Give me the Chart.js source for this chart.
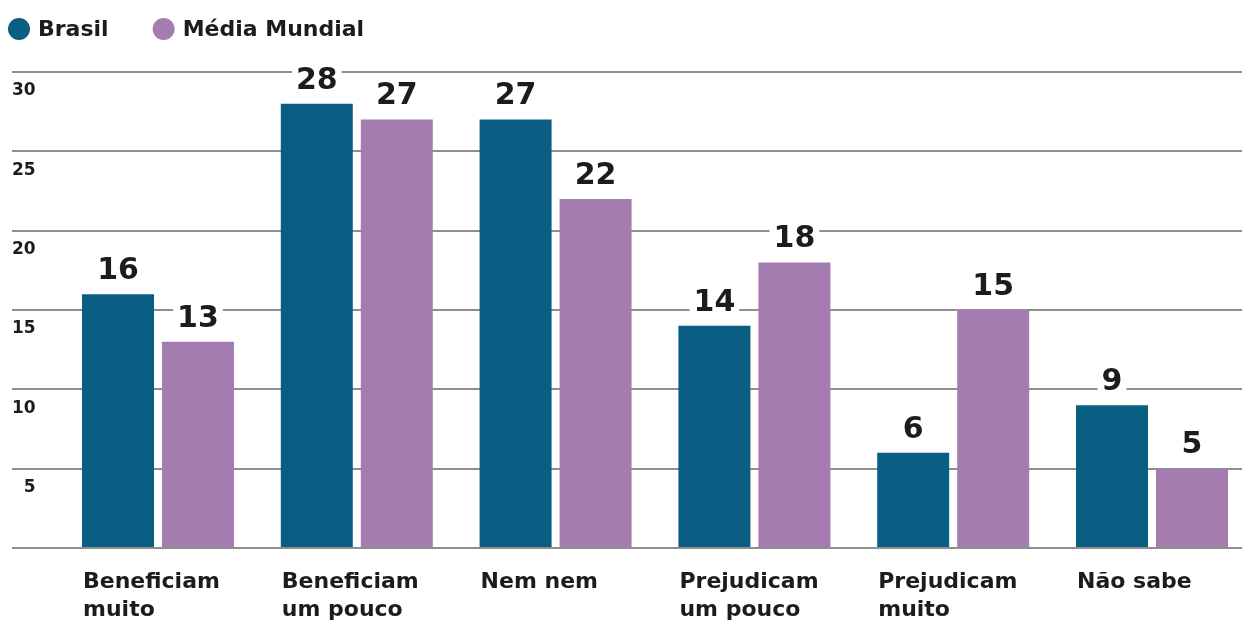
<!DOCTYPE html>
<html>
<head>
<meta charset="utf-8">
<script src="https://cdn.jsdelivr.net/npm/chart.js@4.4.0/dist/chart.umd.min.js"></script>
<style>
    html, body { margin: 0; padding: 0; background: #fff; overflow: hidden; }
    #wrap { width: 1242px; height: 624px; }
</style>
</head>
<body>
<div id="wrap"><canvas id="chart" width="1242" height="624"></canvas></div>
<script>
// categories (one array per label, one entry per line)
var categories = [
    ['Beneficiam', 'muito'],
    ['Beneficiam', 'um pouco'],
    ['Nem nem'],
    ['Prejudicam', 'um pouco'],
    ['Prejudicam', 'muito'],
    ['Não sabe']
];
var brasil = [16, 28, 27, 14, 6, 9];
var mediaMundial = [13, 27, 22, 18, 15, 5];
var yTicks = [0, 5, 10, 15, 20, 25, 30];

var COLOR_BRASIL = '#0a5e84';
var COLOR_MEDIA = '#a57cb0';
var FONT = '"DejaVu Sans", "Liberation Sans", sans-serif';

(function(){
    // custom legend drawn on top of the canvas
    var legendPlugin = {
        id: 'topLegend',
        afterDraw: function(chart){
            var ctx = chart.ctx;
            var x = 8;
            var y = 29;
            ctx.save();
            ctx.font = 'bold 22px ' + FONT;
            ctx.textBaseline = 'middle';
            chart.data.datasets.forEach(function(ds){
                ctx.fillStyle = ds.backgroundColor;
                ctx.beginPath();
                ctx.arc(x + 11, y, 11, 0, Math.PI * 2);
                ctx.fill();
                ctx.fillStyle = '#1c1c1c';
                ctx.fillText(ds.label, x + 30, y + 1);
                x += 30 + ctx.measureText(ds.label).width + 44;
            });
            ctx.restore();
        }
    };

    // value labels above each bar, knocked out of the gridlines
    var valueLabels = {
        id: 'valueLabels',
        afterDatasetsDraw: function(chart){
            var ctx = chart.ctx;
            ctx.save();
            ctx.font = 'bold 30px ' + FONT;
            ctx.textAlign = 'center';
            ctx.textBaseline = 'middle';
            chart.data.datasets.forEach(function(ds, i){
                var meta = chart.getDatasetMeta(i);
                meta.data.forEach(function(bar, j){
                    var text = String(ds.data[j].y);
                    var w = ctx.measureText(text).width;
                    var cy = bar.y - 24;
                    ctx.fillStyle = '#fff';
                    ctx.fillRect(bar.x - w / 2 - 4, cy - 13, w + 8, 26);
                    ctx.fillStyle = '#1c1c1c';
                    ctx.fillText(text, bar.x, cy + 1);
                });
            });
            ctx.restore();
        }
    };

    function toPoints(values){
        return values.map(function(v, i){ return { x: i, y: v }; });
    }

    new Chart(document.getElementById('chart'), {
        type: 'bar',
        data: {
            datasets: [{
                label: 'Brasil',
                data: toPoints(brasil),
                backgroundColor: COLOR_BRASIL
            }, {
                label: 'Média Mundial',
                data: toPoints(mediaMundial),
                backgroundColor: COLOR_MEDIA
            }]
        },
        options: {
            responsive: false,
            animation: false,
            devicePixelRatio: 1,
            categoryPercentage: 0.8048,
            barPercentage: 0.9,
            layout: { padding: { top: 72, left: 0, right: 0, bottom: 0 } },
            plugins: {
                legend: { display: false },
                tooltip: { enabled: false }
            },
            scales: {
                x: {
                    type: 'linear',
                    offset: false,
                    min: -0.7344,
                    max: 5.4527,
                    grid: { display: false, offset: false },
                    border: { display: false },
                    ticks: {
                        stepSize: 1,
                        includeBounds: false,
                        autoSkip: false,
                        maxRotation: 0,
                        align: 'start',
                        labelOffset: -75,
                        padding: 12,
                        color: '#1c1c1c',
                        font: { family: FONT, size: 22, weight: 'bold', lineHeight: 1.27 },
                        callback: function(value){
                            return categories[value] || '';
                        }
                    },
                    afterFit: function(s){
                        s.height = 76;
                        s.paddingLeft = 0;
                        s.paddingRight = 0;
                    }
                },
                y: {
                    min: yTicks[0],
                    max: yTicks[yTicks.length - 1],
                    grid: { color: '#8e8e8e', lineWidth: 2, drawTicks: false },
                    border: { display: false },
                    afterBuildTicks: function(s){
                        s.ticks = yTicks.map(function(v){ return { value: v }; });
                    },
                    ticks: {
                        mirror: true,
                        padding: 0,
                        labelOffset: 19,
                        color: '#1c1c1c',
                        font: { family: FONT, size: 17, weight: 'bold' },
                        callback: function(value){
                            if( value === 0 ) return '';
                            return value < 10 ? '\u2007' + value : String(value);
                        }
                    },
                    afterFit: function(s){
                        s.width = 12;
                        s.paddingTop = 0;
                        s.paddingBottom = 0;
                    }
                }
            }
        },
        plugins: [legendPlugin, valueLabels]
    });
})();
</script>
</body>
</html>
